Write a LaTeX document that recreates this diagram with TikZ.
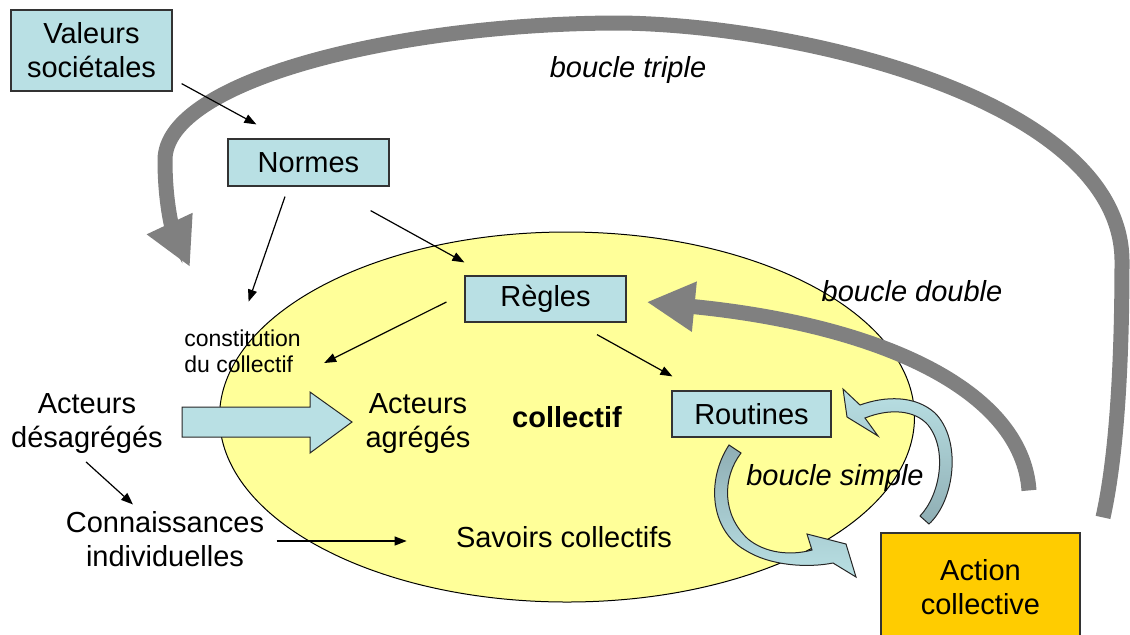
\documentclass[tikz,border=0pt]{standalone}
\usepackage{fontspec}
\setmainfont{Liberation Sans}
\usetikzlibrary{arrows.meta,calc,shapes.geometric}

\definecolor{boitebleue}{RGB}{185,224,228}
\definecolor{bleufonce}{RGB}{143,174,180}
\definecolor{jaunepale}{RGB}{255,255,153}
\definecolor{jauneaction}{RGB}{255,204,0}
\definecolor{grisboucle}{RGB}{128,128,128}

\tikzset{
    boite/.style = {draw = black!80, line width = 0.6pt, fill = boitebleue, inner sep = 0pt, align = center, font = \fontsize{14.5}{17}\selectfont},
    texte/.style = {inner sep = 0pt, align = center, font = \fontsize{14.5}{17}\selectfont},
    petit/.style = {inner sep = 0pt, align = left, font = \fontsize{11.5}{13}\selectfont},
    boucle/.style = {inner sep = 0pt, font = \fontsize{14.5}{17}\selectfont\itshape},
    fleche/.style = {line width = 0.6pt, -{Triangle[length = 6pt, width = 4.5pt]}},
    grosse/.style = {draw = grisboucle, line width = 7.5pt, -{Triangle[length = 24pt, width = 23.5pt]}},
    courbe/.style = {draw = black!85, line width = 0.5pt, line join = miter}
}

\begin{document}
\begin{tikzpicture}[x = 0.5pt, y = -0.5pt]
    \useasboundingbox (0, 0) rectangle (1130, 634);
    \clip (0, 0) rectangle (1130, 634);

    \node[ellipse, draw = black, line width = 0.5pt, fill = jaunepale, minimum width = 347.5pt, minimum height = 185pt, inner sep = 0pt, font = \fontsize{14.5}{17}\selectfont\bfseries] (collectif) at (567, 417) {collectif};

    \node[boite, minimum width = 80.5pt, minimum height = 40.5pt] (valeurs) at (91.5, 50.5) {Valeurs\\sociétales};
    \node[boite, minimum width = 80.5pt, minimum height = 23.5pt] (normes) at (308.5, 162.5) {Normes};
    \node[boite, minimum width = 80.5pt, minimum height = 23pt] (regles) at (545.5, 299) {Règles};
    \node[boite, minimum width = 79.5pt, minimum height = 23pt] (routines) at (751.5, 414) {Routines};
    \node[boite, fill = jauneaction, minimum width = 99.5pt, minimum height = 54pt] (action) at (980.5, 587) {Action\\collective};

    \draw[grosse]
        ($(action.north) + (122.5, -15)$) .. controls (1118, 450) and (1122, 350) .. (1122, 260)
        .. controls (1120, 100) and (800, 25) .. (620, 23)
        .. controls (400, 23) and (165, 80) .. (165, 160)
        .. controls (165, 210) and (175, 235) .. (190, 267);
    \draw[grosse]
        ($(action.north) + (48.5, -42)$) .. controls (1022, 390) and (880, 325) .. ($(regles.east) + (20, 3)$);

    \node[texte] (desag) at (87, 424) {Acteurs\\désagrégés};
    \node[texte] (agreg) at (418, 424) {Acteurs\\agrégés};
    \node[texte] (connaiss) at (165, 539) {Connaissances\\individuelles};
    \node[texte] (savoirs) at (564, 537) {Savoirs collectifs};
    \node[petit, anchor = west] (constit) at (184, 351) {constitution\\du collectif};

    \draw[fleche] ($(valeurs.south east) + (9, -8)$) -- ($(normes.north west) + (29, -14)$);
    \draw[fleche] ($(normes.south east) + (-19, 24)$) -- ($(regles.north west) + (0, -13)$);
    \draw[fleche] ($(normes.south) + (-23.5, 10)$) -- ($(constit.north) + (6, -27.5)$);
    \draw[fleche] ($(regles.west) + (-18, 3)$) -- ($(constit.east) + (23, 12)$);
    \draw[fleche] ($(regles.south) + (51.5, 12)$) -- ($(routines.north west) + (1, -14)$);
    \draw[fleche] ($(desag.south) + (-1, 7.5)$) -- ($(connaiss.north) + (-32, -6.5)$);
    \draw[fleche] ($(connaiss.east) + (12, 2)$) -- ($(savoirs.west) + (-49, 4)$);

    \draw[courbe, fill = boitebleue]
        (182, 407) -- (310, 407) -- (310, 392) -- (352, 422) -- (310, 453) -- (310, 437) -- (182, 437) -- cycle;

    \draw[courbe, top color = bleufonce, bottom color = boitebleue]
        (729, 445) .. controls (706, 480) and (710, 530) .. (745, 550)
        .. controls (770, 566) and (808, 568) .. (833, 563)
        -- (856, 577) -- (846, 544) -- (807, 534) -- (812, 550)
        .. controls (790, 556) and (765, 553) .. (748, 539)
        .. controls (722, 515) and (722, 478) .. (741, 453) -- cycle;
    \draw[courbe, top color = boitebleue, bottom color = bleufonce]
        (929, 524) .. controls (955, 500) and (962, 440) .. (935, 413)
        .. controls (915, 395) and (885, 396) .. (860, 405)
        -- (843, 389) -- (847, 417) -- (878, 436) -- (865, 418)
        .. controls (890, 408) and (915, 410) .. (928, 425)
        .. controls (948, 450) and (940, 495) .. (920, 516) -- cycle;

    \node[boucle] (btriple) at (628, 70) {boucle triple};
    \node[boucle] (bdouble) at (912, 291) {boucle double};
    \node[boucle] (bsimple) at (835, 478) {boucle simple};
\end{tikzpicture}
\end{document}
